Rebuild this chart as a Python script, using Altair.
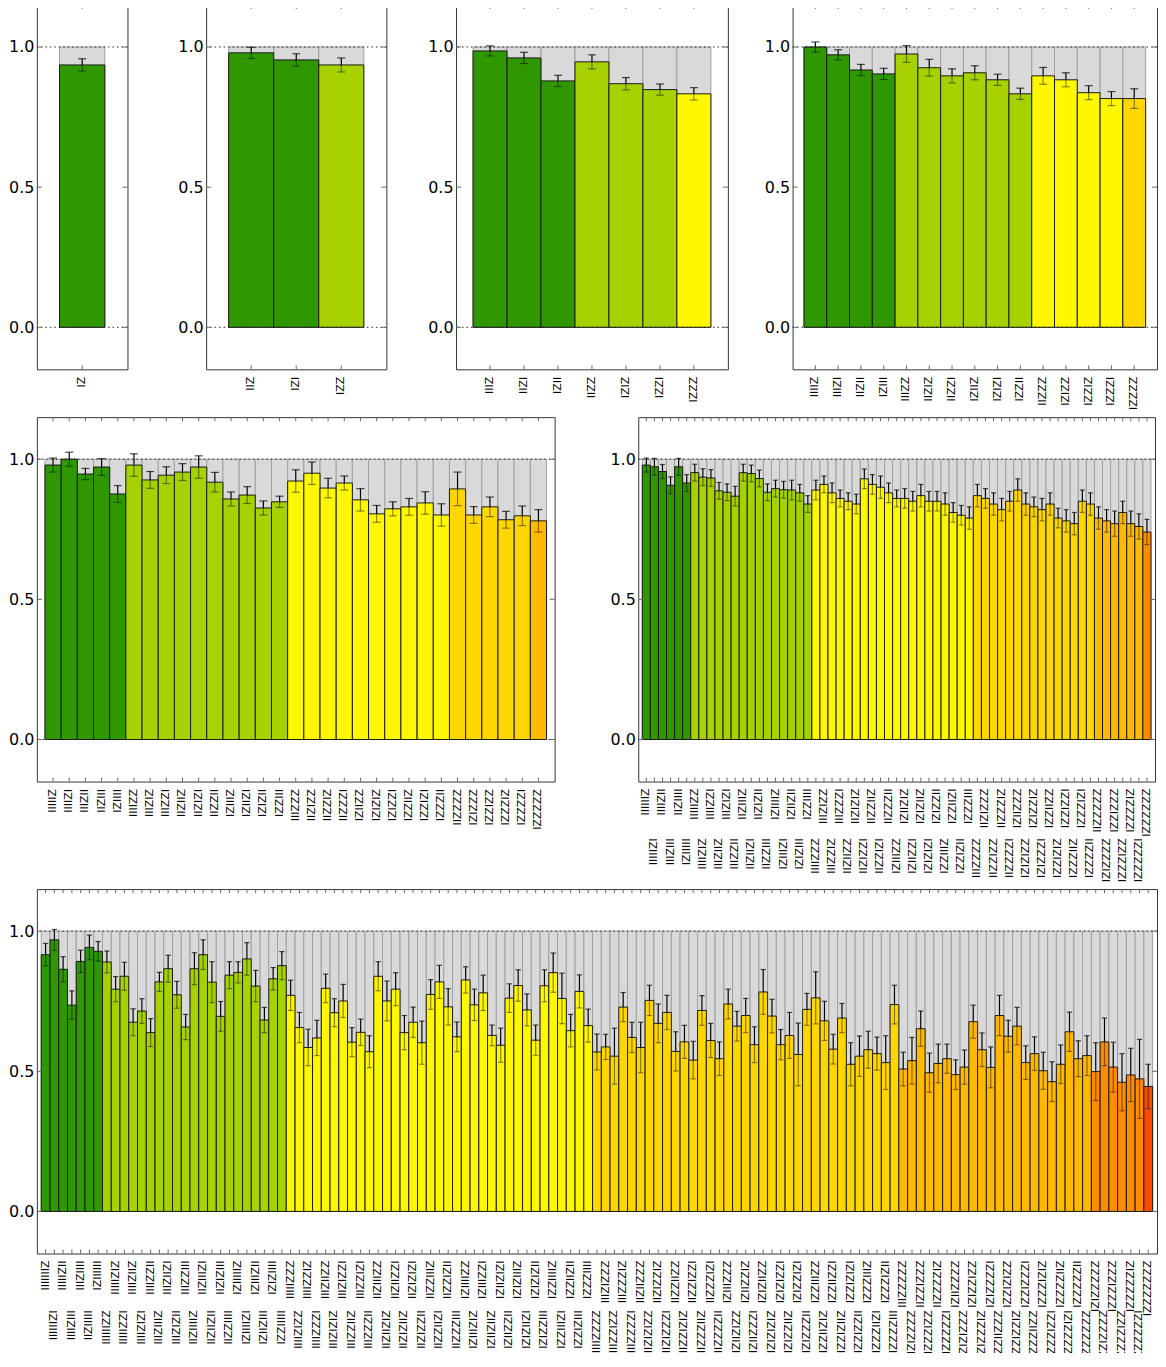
import itertools
import altair as alt
import pandas as pd

FONT = "DejaVu Sans"
H = 366

GROUP_NAMES = ["1Z", "2Z", "3Z", "4Z", "5Z", "6Z", "7Z"]
GROUP_COLORS = ["#2f9800", "#a5d200", "#fff700", "#ffd700", "#ffb900", "#ff8c00", "#ff4a00"]

# bars per colour group, per panel
P1_groups = [1]
P2_groups = [2, 1]
P3_groups = [3, 3, 1]
P4_groups = [4, 6, 4, 1]
P5_groups = [5, 10, 10, 5, 1]
P6_groups = [6, 15, 20, 15, 6, 1]
P7_groups = [7, 21, 35, 35, 22, 6, 1]

P1_val = [0.936]
P1_err = [0.022]

P2_val = [0.979, 0.954, 0.936]
P2_err = [0.020, 0.022, 0.025]

P3_val = [0.986, 0.961, 0.879, 0.947, 0.869, 0.848, 0.833]
P3_err = [0.018, 0.020, 0.020, 0.025, 0.022, 0.020, 0.022]

P4_val = [1.000, 0.972, 0.918, 0.904, 0.975, 0.926, 0.897, 0.908, 0.883, 0.833,
          0.897, 0.883, 0.837, 0.816, 0.816]
P4_err = [0.018, 0.018, 0.020, 0.020, 0.030, 0.030, 0.025, 0.025, 0.020, 0.020,
          0.030, 0.025, 0.025, 0.025, 0.035]

P5_val = [0.979, 1.000, 0.947, 0.972, 0.876, 0.979, 0.926, 0.943, 0.954, 0.972,
          0.918, 0.858, 0.872, 0.826, 0.848, 0.922, 0.950, 0.897, 0.915, 0.855,
          0.805, 0.823, 0.830, 0.844, 0.801, 0.894, 0.801, 0.830, 0.784, 0.798,
          0.780]
P5_err = [0.025, 0.025, 0.020, 0.030, 0.030, 0.040, 0.030, 0.030, 0.030, 0.040,
          0.035, 0.025, 0.030, 0.025, 0.020, 0.040, 0.040, 0.035, 0.025, 0.040,
          0.030, 0.025, 0.030, 0.040, 0.040, 0.060, 0.030, 0.035, 0.030, 0.035,
          0.040]

P6_val = [0.979, 0.973, 0.956, 0.907, 0.973, 0.915,
          0.952, 0.936, 0.933, 0.887, 0.882, 0.868, 0.952, 0.949, 0.931, 0.882,
          0.895, 0.891, 0.890, 0.880, 0.840,
          0.890, 0.910, 0.880, 0.860, 0.850, 0.840, 0.930, 0.910, 0.900, 0.880,
          0.860, 0.860, 0.850, 0.870, 0.850, 0.850, 0.840, 0.810, 0.800, 0.790,
          0.870, 0.860, 0.840, 0.820, 0.850, 0.890, 0.840, 0.830, 0.820, 0.840,
          0.790, 0.780, 0.770, 0.850, 0.840,
          0.790, 0.780, 0.770, 0.810, 0.770, 0.760,
          0.740]
P6_err = [0.025, 0.030, 0.025, 0.030, 0.030, 0.030,
          0.030, 0.030, 0.030, 0.030, 0.030, 0.035, 0.030, 0.030, 0.030, 0.030,
          0.030, 0.030, 0.035, 0.030, 0.030,
          0.035, 0.030, 0.035, 0.030, 0.030, 0.035, 0.035, 0.035, 0.040, 0.035,
          0.030, 0.035, 0.035, 0.040, 0.035, 0.035, 0.040, 0.035, 0.035, 0.040,
          0.040, 0.035, 0.040, 0.040, 0.035, 0.040, 0.040, 0.035, 0.040, 0.040,
          0.035, 0.040, 0.040, 0.040, 0.040,
          0.040, 0.040, 0.045, 0.040, 0.045, 0.045,
          0.045]

P7_val = [0.916, 0.969, 0.864, 0.736, 0.892, 0.942, 0.928,
          0.890, 0.793, 0.839, 0.675, 0.715, 0.638, 0.819, 0.866, 0.773, 0.658,
          0.866, 0.916, 0.818, 0.696, 0.843, 0.853, 0.901, 0.804, 0.683, 0.830,
          0.877,
          0.771, 0.656, 0.585, 0.619, 0.796, 0.709, 0.751, 0.604, 0.639, 0.570,
          0.839, 0.751, 0.793, 0.638, 0.675, 0.602, 0.774, 0.819, 0.730, 0.623,
          0.826, 0.737, 0.780, 0.628, 0.593, 0.761, 0.806, 0.719, 0.611, 0.805,
          0.852, 0.760, 0.645, 0.785, 0.663,
          0.569, 0.587, 0.554, 0.729, 0.621, 0.585, 0.753, 0.671, 0.710, 0.571,
          0.605, 0.540, 0.717, 0.610, 0.545, 0.740, 0.661, 0.699, 0.595, 0.783,
          0.697, 0.595, 0.628, 0.560, 0.721, 0.762, 0.680, 0.579, 0.690, 0.525,
          0.554, 0.577, 0.563, 0.531, 0.738,
          0.508, 0.538, 0.652, 0.495, 0.528, 0.545, 0.488, 0.515, 0.677, 0.577,
          0.514, 0.699, 0.625, 0.661, 0.531, 0.563, 0.502, 0.463, 0.525, 0.641,
          0.545, 0.556,
          0.499, 0.605, 0.515, 0.461, 0.487, 0.473,
          0.446]
P7_err = [0.040, 0.037, 0.045, 0.051, 0.040, 0.044, 0.035,
          0.039, 0.045, 0.050, 0.048, 0.044, 0.050, 0.034, 0.048, 0.048, 0.045,
          0.057, 0.053, 0.073, 0.053, 0.048, 0.038, 0.058, 0.056, 0.045, 0.040,
          0.050,
          0.054, 0.054, 0.065, 0.063, 0.051, 0.050, 0.059, 0.052, 0.047, 0.057,
          0.052, 0.071, 0.059, 0.061, 0.054, 0.077, 0.053, 0.059, 0.065, 0.053,
          0.047, 0.056, 0.063, 0.037, 0.061, 0.051, 0.056, 0.057, 0.054, 0.057,
          0.070, 0.090, 0.058, 0.059, 0.059,
          0.064, 0.045, 0.100, 0.052, 0.054, 0.090, 0.054, 0.069, 0.061, 0.070,
          0.059, 0.067, 0.053, 0.061, 0.060, 0.053, 0.053, 0.061, 0.064, 0.080,
          0.060, 0.054, 0.082, 0.112, 0.057, 0.093, 0.070, 0.053, 0.052, 0.077,
          0.072, 0.066, 0.059, 0.096, 0.069,
          0.060, 0.083, 0.063, 0.070, 0.069, 0.052, 0.053, 0.061, 0.059, 0.060,
          0.073, 0.072, 0.057, 0.067, 0.060, 0.060, 0.066, 0.071, 0.069, 0.070,
          0.064, 0.071,
          0.103, 0.085, 0.089, 0.102, 0.095, 0.141,
          0.079]


def make_labels(k):
    out = []
    for nz in range(1, k + 1):
        for t in itertools.product("IZ", repeat=k):
            if t.count("Z") == nz:
                out.append("I" + "".join(t))
    return out


def panel(vals, errs, groups, width, staggered=False):
    k = len(groups)
    labels = make_labels(k)
    grp = []
    for g, c in enumerate(groups):
        grp += [GROUP_NAMES[g]] * c
    n = len(labels)
    df = pd.DataFrame({"label": labels, "val": vals, "err": errs, "grp": grp,
                       "idx": list(range(n))})
    step = width / (n + 1)
    capw = min(8.0, step * 0.6)

    xscale = alt.Scale(domain=labels, paddingInner=0, paddingOuter=0.5)
    if staggered:
        xaxis = None
    else:
        xaxis = alt.Axis(labelAngle=270, labelFontSize=11, labelFont=FONT,
                         ticks=False, domain=False, grid=False, title=None,
                         labelPadding=7, labelColor="black")
    x = alt.X("label:N", scale=xscale, axis=xaxis, sort=labels, title=None)
    yscale = alt.Scale(domain=[-0.15, 1.15], nice=False, zero=False)
    yaxis = alt.Axis(values=[0.0, 0.5, 1.0], format=".1f", labelFontSize=16,
                     labelFont=FONT, ticks=False, domain=False, grid=False,
                     labelPadding=3, title=None, labelColor="black")

    def Y(f):
        return alt.Y(f, scale=yscale, axis=yaxis, title=None)

    base = alt.Chart(df).transform_calculate(
        one="1.0", zero="0.0",
        hi="datum.val + datum.err", lo="datum.val - datum.err")

    grey = base.mark_bar(color="#d9d9d9", stroke="#a0a0a0", strokeWidth=1).encode(
        x=x, y=Y("one:Q"), y2="zero:Q")
    bars = base.mark_bar(stroke="#1a1a1a", strokeWidth=1).encode(
        x=x, y=Y("val:Q"), y2="zero:Q",
        color=alt.Color("grp:N", scale=alt.Scale(domain=GROUP_NAMES, range=GROUP_COLORS),
                        legend=None))
    err_up = base.mark_rule(color="black", strokeWidth=1.2).encode(
        x=x, y=Y("val:Q"), y2="hi:Q")
    err_lo = base.mark_rule(color="black", strokeWidth=1.2, opacity=0.45).encode(
        x=x, y=Y("lo:Q"), y2="val:Q")
    cap_up = base.mark_tick(color="black", size=capw, thickness=1.2).encode(
        x=x, y=Y("hi:Q"))
    cap_lo = base.mark_tick(color="black", size=capw, thickness=1.2, opacity=0.45).encode(
        x=x, y=Y("lo:Q"))

    dots = alt.Chart(pd.DataFrame({"v": [0.0, 1.0]})).mark_rule(
        color="#222222", strokeWidth=1, strokeDash=[1.5, 3]).encode(y=Y("v:Q"))
    tick_top = base.mark_rule(color="#666666", strokeWidth=1).encode(
        x=x, y=alt.value(0), y2=alt.value(4))
    tick_bot = base.mark_rule(color="#666666", strokeWidth=1).encode(
        x=x, y=alt.value(H - 4), y2=alt.value(H))
    yt = alt.Chart(pd.DataFrame({"v": [0.0, 0.5, 1.0]}))
    ytick_l = yt.mark_rule(color="#666666", strokeWidth=1).encode(
        y=Y("v:Q"), x=alt.value(0), x2=alt.value(5))
    ytick_r = yt.mark_rule(color="#666666", strokeWidth=1).encode(
        y=Y("v:Q"), x=alt.value(width - 5), x2=alt.value(width))

    layers = [grey, bars, err_lo, cap_lo, err_up, cap_up, dots,
              tick_top, tick_bot, ytick_l, ytick_r]
    if staggered:
        t_even = base.transform_filter("datum.idx % 2 == 0").mark_text(
            angle=270, align="right", baseline="middle", fontSize=11, font=FONT,
            color="black").encode(x=x, y=alt.value(H + 7), text="label:N")
        t_odd = base.transform_filter("datum.idx % 2 == 1").mark_text(
            angle=270, align="right", baseline="middle", fontSize=11, font=FONT,
            color="black").encode(x=x, y=alt.value(H + 57), text="label:N")
        layers += [t_even, t_odd]
    return alt.layer(*layers).properties(width=width, height=H)


p1 = panel(P1_val, P1_err, P1_groups, 91)
p2 = panel(P2_val, P2_err, P2_groups, 181)
p3 = panel(P3_val, P3_err, P3_groups, 273)
p4 = panel(P4_val, P4_err, P4_groups, 366)
p5 = panel(P5_val, P5_err, P5_groups, 520)
p6 = panel(P6_val, P6_err, P6_groups, 519, staggered=True)
p7 = panel(P7_val, P7_err, P7_groups, 1125, staggered=True)

row1 = alt.hconcat(p1, alt.hconcat(p2, alt.hconcat(p3, p4, spacing=35), spacing=40),
                   spacing=49)
row2 = alt.hconcat(p5, p6, spacing=54)
chart = alt.vconcat(alt.vconcat(row1, row2, spacing=6), p7, spacing=5).properties(
    padding={"left": 0, "top": -7, "right": 0, "bottom": -13}
).configure_view(stroke="#333333", strokeWidth=1)

chart.save("out.html", embed_options={"renderer": "svg", "actions": False})
